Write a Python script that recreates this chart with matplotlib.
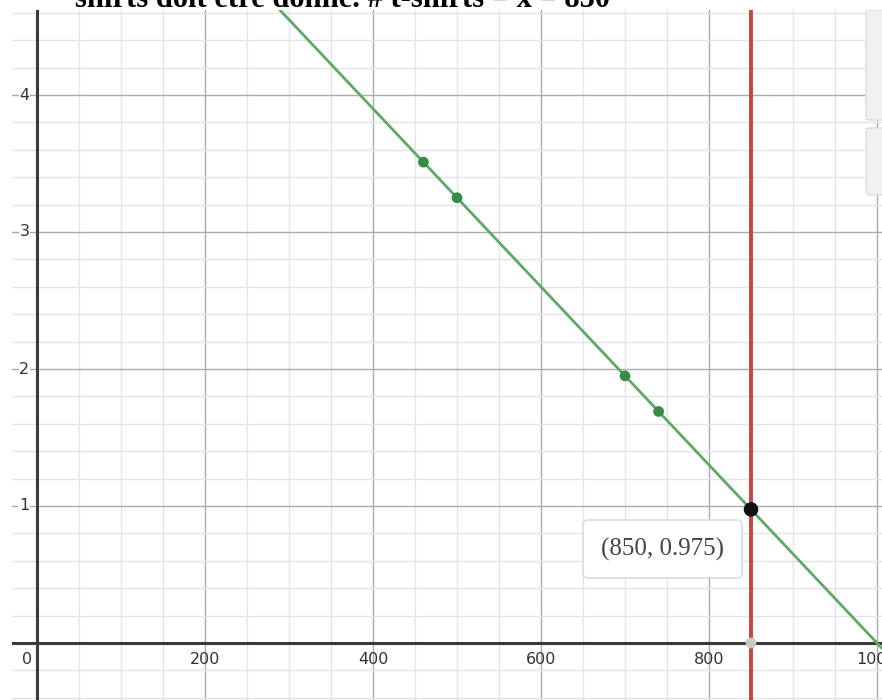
import matplotlib
matplotlib.use("Agg")
import matplotlib.pyplot as plt
from matplotlib.patches import FancyBboxPatch
import numpy as np

# Data
line_slope = -0.0065
line_intercept = 6.5
point_x = [460, 500, 700, 740]
point_y = [3.51, 3.25, 1.95, 1.69]
vline_x = 850
intersect = (850, 0.975)
x_ticks = [0, 200, 400, 600, 800, 1000]
x_tick_labels = ["0", "200", "400", "600", "800", "1000"]
y_ticks = [1, 2, 3, 4]
y_tick_labels = ["1", "2", "3", "4"]
title_text = "shirts doit être donné. # t-shirts = x = 850"

W, H = 882, 700
fig = plt.figure(figsize=(W / 100, H / 100), dpi=100)
fig.patch.set_facecolor("white")

px_per_x = 0.84
x0_px = 37
px_per_y = 137
y0_px = 643
left_px, right_px, top_px, bottom_px = 12, 882, 10, 700
xmin = (left_px - x0_px) / px_per_x
xmax = (right_px - x0_px) / px_per_x
ymin = (y0_px - bottom_px) / px_per_y
ymax = (y0_px - top_px) / px_per_y

ax = fig.add_axes([left_px / W, 0, (right_px - left_px) / W, (H - top_px) / H])
ax.set_xlim(xmin, xmax)
ax.set_ylim(ymin, ymax)
ax.set_axis_off()

# grid
for gx in np.arange(-50, 1051, 50):
    major = (gx % 200 == 0)
    ax.axvline(gx, color="#ababab" if major else "#e4e4e4", lw=1.0, zorder=0)
for gy in np.arange(-0.4, 4.81, 0.2):
    major = abs(gy - round(gy)) < 1e-6
    ax.axhline(gy, color="#ababab" if major else "#e4e4e4", lw=1.0, zorder=0)

# axes
ax.axhline(0, color="#3a3a3a", lw=2.2, zorder=1)
ax.axvline(0, color="#3a3a3a", lw=2.2, zorder=1)

# tick labels
for t, lab in zip(x_ticks, x_tick_labels):
    xx = t if t != 0 else -12
    ax.text(xx, -0.12, lab, ha="center", va="center", fontsize=11.5,
            color="#333333", family="DejaVu Sans", zorder=2)
for t, lab in zip(y_ticks, y_tick_labels):
    ax.text(-9, t, lab, ha="right", va="center", fontsize=11.5,
            color="#333333", family="DejaVu Sans", zorder=2,
            bbox=dict(boxstyle="square,pad=0.05", fc="white", ec="none"))

# green line
xs = np.array([xmin, xmax])
ax.plot(xs, line_slope * xs + line_intercept, color="#5fa867", lw=2.0, zorder=3)
# red vertical line
ax.axvline(vline_x, color="#c74440", lw=2.8, zorder=3)

# points
ax.scatter(point_x, point_y, s=60, color="#388c46", zorder=4, edgecolors="none")
ax.scatter([vline_x], [0], s=60, color="#c8c8c8", zorder=4, edgecolors="none")
ax.scatter([intersect[0]], [intersect[1]], s=110, color="#111111", zorder=5, edgecolors="none")

# label box
bx0 = (583 - x0_px) / px_per_x
bx1 = (742 - x0_px) / px_per_x
by0 = (y0_px - 578) / px_per_y
by1 = (y0_px - 520) / px_per_y
box = FancyBboxPatch((bx0, by0), bx1 - bx0, by1 - by0,
                     boxstyle="round,pad=0,rounding_size=6",
                     mutation_aspect=px_per_x / px_per_y,
                     fc="white", ec="#dcdcdc", lw=1.2, zorder=6)
ax.add_patch(box)
ax.text((bx0 + bx1) / 2, (by0 + by1) / 2, "(850, 0.975)", ha="center", va="center",
        fontsize=18, color="#444444", family="Liberation Serif", zorder=7)

# right side gray panels (zoom buttons)
for (ytop, ybot) in [(10, 120), (128, 195)]:
    r = FancyBboxPatch(((866 - x0_px) / px_per_x, (y0_px - ybot) / px_per_y),
                       40 / px_per_x, (ybot - ytop) / px_per_y,
                       boxstyle="round,pad=0,rounding_size=4",
                       mutation_aspect=px_per_x / px_per_y,
                       fc="#f0f0f0", ec="#dddddd", lw=1, zorder=6, clip_on=True)
    ax.add_patch(r)

# top cut-off title text
fig.text(75 / W, 1 - 7 / H, title_text, ha="left", va="baseline", fontsize=22,
         fontweight="bold", family="Liberation Serif", color="black")

fig.savefig("out.png", dpi=100, facecolor="white")
